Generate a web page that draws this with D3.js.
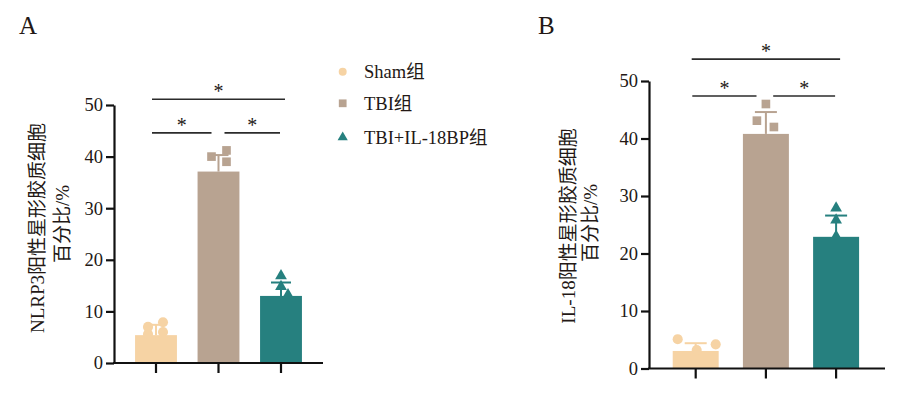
<!DOCTYPE html>
<html>
<head>
<meta charset="utf-8">
<script src="https://cdn.jsdelivr.net/npm/d3@7"></script>
<style>
  body { margin: 0; background: #fff; }
  svg { display: block; }
  text { font-family: "Liberation Serif", "Noto Sans CJK SC", serif; fill: #231815; }
</style>
</head>
<body>
<svg width="900" height="393"></svg>
<script>
// groups and colours
var groups = ["Sham组", "TBI组", "TBI+IL-18BP组"];
var colors = ["#F6D3A4", "#B8A391", "#26807F"];
var yTicks = [0, 10, 20, 30, 40, 50];

// panel A: NLRP3
var meanA = [5.4, 37.1, 13.0];
var sdTopA = [7.4, 40.3, 15.6];
var ptsA = [[7.0, 7.9, 6.0, 5.6], [40.0, 41.2, 39.0], [16.9, 14.8, 13.2]];
// panel B: IL-18
var meanB = [3.05, 40.8, 22.9];
var sdTopB = [4.4, 44.6, 26.6];
var ptsB = [[5.1, 3.2, 4.2], [46.0, 43.1, 42.0], [27.9, 25.8, 23.0]];

var svg = d3.select("svg");

// legend
var legY = [71.7, 103.3, 137.3];
var leg = svg.append("g");
groups.forEach(function(g, i) {
  var sym = d3.symbol().type([d3.symbolCircle, d3.symbolSquare, d3.symbolTriangle][i]).size([50, 60, 45][i]);
  leg.append("path").attr("d", sym).attr("fill", colors[i])
    .attr("transform", "translate(342.7," + legY[i] + ")");
  leg.append("text").attr("x", 364).attr("y", legY[i]).attr("dy", "0.35em")
    .style("font-size", "18.5px").text(g);
});

function panel(opt) {
  var g = svg.append("g");
  var y = d3.scaleLinear().domain([0, 50]).range([opt.y0, opt.y50]);
  var x = d3.scaleBand().domain(groups).range(opt.xr).paddingInner(opt.pi).paddingOuter(opt.pi / 2);
  var cx = function(i) { return x(groups[i]) + x.bandwidth() / 2; };

  // bars
  g.selectAll("rect.bar").data(opt.mean).enter().append("rect")
    .attr("x", function(d, i) { return x(groups[i]); })
    .attr("width", x.bandwidth())
    .attr("y", function(d) { return y(d); })
    .attr("height", function(d) { return y(0) - y(d); })
    .attr("fill", function(d, i) { return colors[i]; });

  // error bars (upper only)
  opt.sd.forEach(function(v, i) {
    g.append("line").attr("x1", cx(i)).attr("x2", cx(i))
      .attr("y1", y(opt.mean[i])).attr("y2", y(v))
      .attr("stroke", colors[i]).attr("stroke-width", 2);
    g.append("line").attr("x1", cx(i) - opt.cap / 2).attr("x2", cx(i) + opt.cap / 2)
      .attr("y1", y(v)).attr("y2", y(v))
      .attr("stroke", colors[i]).attr("stroke-width", 2);
  });

  // points
  var offs = opt.offs;
  opt.pts.forEach(function(arr, i) {
    var sym = d3.symbol().type([d3.symbolCircle, d3.symbolSquare, d3.symbolTriangle][i]).size(opt.symSize[i]);
    arr.forEach(function(v, j) {
      g.append("path").attr("d", sym).attr("fill", colors[i])
        .attr("transform", "translate(" + (cx(i) + offs[i][j]) + "," + y(v) + ")");
    });
  });

  // axes
  var ya = d3.axisLeft(y).tickValues(yTicks).tickSize(8).tickPadding(3).tickSizeOuter(0);
  var yg = g.append("g").attr("transform", "translate(" + opt.ax + ",0)").call(ya);
  yg.select(".domain").attr("stroke", "#111").attr("stroke-width", 2.2);
  yg.selectAll(".tick line").attr("stroke", "#111").attr("stroke-width", 2.2);
  yg.selectAll(".tick text").style("font-size", "18.5px").attr("fill", "#231815");

  var xa = d3.axisBottom(x).tickSize(10).tickFormat("").tickSizeOuter(0);
  var xg = g.append("g").attr("transform", "translate(0," + y(0) + ")").call(xa);
  xg.select(".domain").remove();
  xg.selectAll(".tick line").attr("stroke", "#111").attr("stroke-width", 2.2);
  g.append("line").attr("x1", opt.ax - 1).attr("x2", opt.xEnd)
    .attr("y1", y(0)).attr("y2", y(0)).attr("stroke", "#111").attr("stroke-width", 2.2);

  // significance lines
  opt.sig.forEach(function(s) {
    var x1 = cx(s.a) + s.da, x2 = cx(s.b) + s.db, yy = y(s.v);
    g.append("line").attr("x1", x1).attr("x2", x2).attr("y1", yy).attr("y2", yy)
      .attr("stroke", "#2b2b2b").attr("stroke-width", 1.6);
    g.append("text").attr("x", (x1 + x2) / 2).attr("y", yy - 1)
      .attr("text-anchor", "middle").style("font-size", "20px").text("*");
  });

  // y label
  var lx = opt.lab;
  g.append("text").attr("transform", "translate(" + lx[0] + "," + lx[1] + ") rotate(-90)")
    .attr("text-anchor", "middle").attr("dy", "0.35em").style("font-size", "19px").text(opt.label1);
  g.append("text").attr("transform", "translate(" + lx[2] + "," + lx[3] + ") rotate(-90)")
    .attr("text-anchor", "middle").attr("dy", "0.35em").style("font-size", "19px").text("百分比/%");

  // panel letter
  svg.append("text").attr("x", opt.letter[0]).attr("y", opt.letter[1])
    .style("font-size", "25px").text(opt.letterText);
}

panel({
  y0: 363, y50: 105, xr: [124.75, 312.25], pi: 0.33, ax: 114, xEnd: 323, cap: 20,
  mean: meanA, sd: sdTopA, pts: ptsA,
  offs: [[-8, 7, 7, -8], [-7, 8, 8], [0, 0, 7]],
  symSize: [80, 75, 60],
  sig: [{a: 0, b: 2, da: -4, db: 4, v: 51.1}, {a: 0, b: 1, da: -4, db: -7, v: 44.6}, {a: 1, b: 2, da: 6, db: -1, v: 44.6}],
  lab: [37, 228, 62, 224], label1: "NLRP3阳性星形胶质细胞",
  letter: [19, 34], letterText: "A"
});

panel({
  y0: 368.5, y50: 81, xr: [660.6, 871.2], pi: 0.345, ax: 649, xEnd: 885, cap: 22,
  mean: meanB, sd: sdTopB, pts: ptsB,
  offs: [[-18, 1, 20], [0, -9, 8], [0, 0, 0]],
  symSize: [80, 75, 60],
  sig: [{a: 0, b: 2, da: -4, db: 4, v: 53.8}, {a: 0, b: 1, da: -3.4, db: -9.4, v: 47.4}, {a: 1, b: 2, da: 7.3, db: -1, v: 47.4}],
  lab: [568, 226, 590, 223], label1: "IL-18阳性星形胶质细胞",
  letter: [538, 34], letterText: "B"
});
</script>
</body>
</html>
